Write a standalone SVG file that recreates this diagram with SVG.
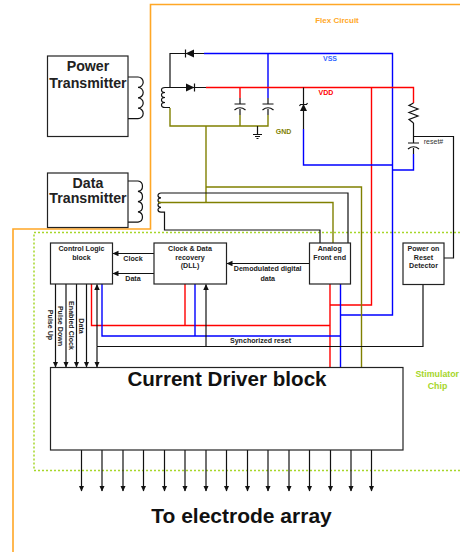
<svg xmlns="http://www.w3.org/2000/svg" width="460" height="552" viewBox="0 0 460 552">
<style>
text{font-family:"Liberation Sans",Arial,sans-serif;font-weight:bold;text-anchor:middle;fill:#222}
.box{fill:#fff;stroke:#222;stroke-width:1.2}
.k{fill:none;stroke:#111;stroke-width:1.2}
.r{fill:none;stroke:#f00;stroke-width:1.4}
.b{fill:none;stroke:#00f;stroke-width:1.4}
.o{fill:none;stroke:#808000;stroke-width:1.4}
.s{font-size:7.1px}
.big{font-size:20.6px;fill:#111}
.tx{font-size:14.2px}
.f{fill:#111;stroke:none}
</style>
<defs>
<marker id="ah" markerUnits="userSpaceOnUse" markerWidth="6" markerHeight="7" refX="5.5" refY="2.75" orient="auto"><path d="M0,0L6,2.75L0,5.5Z" fill="#111"/></marker>
</defs>
<g id="flex-boundary"><path d="M460,4.500H150.500V229H13V552" fill="none" stroke="#ffa726" stroke-width="1.6"/><text x="337" y="23" font-size="8" style="fill:#ffa726">Flex Circuit</text></g>
<g id="chip-boundary"><path d="M460,232.500H34V470.500H460" fill="none" stroke="#a6d62a" stroke-width="1.500" stroke-dasharray="2 2"/><text x="415.500" y="377" font-size="8.800" style="fill:#a6d62a;text-anchor:start">Stimulator</text><text x="437.500" y="388.500" font-size="8.800" style="fill:#a6d62a">Chip</text></g>
<g id="connectors">
<path class="k" d="M128,77H138a5.200,5.200 0 0 1 0,10.400a5.200,5.200 0 0 1 0,10.400a5.200,5.200 0 0 1 0,10.400a5.200,5.200 0 0 1 0,10.400H128"/>
<path class="k" d="M128,181H138a5.200,5.200 0 0 1 0,10.300a5.200,5.200 0 0 1 0,10.300a5.200,5.200 0 0 1 0,10.300a5.200,5.200 0 0 1 0,10.300H128"/>
<path class="k" d="M170,87.500H165a3.500,2.500 0 0 0 0,5a3.500,2.500 0 0 0 0,5a3.500,2.500 0 0 0 0,5a3.500,2.500 0 0 0 0,5H170"/>
<path class="k" d="M204,53.500H170V87.500M170,87.500H206"/>
<path class="b" d="M204,53.500H392.500V315H340.500M268,53.500V98"/>
<path class="r" d="M206,87.500H413.500V103M240,87.500V98M371.500,87.500V305H330"/>
<path class="k" d="M240,98V104M240,109V115M268,98V104M268,109V115"/>
<path class="o" d="M170,108V126H268V115M240,126V115M206,126V202.500"/>
<path class="k" d="M257.500,126V134.500"/>
<path class="k" d="M303.500,87.500V129"/>
<path class="b" d="M303.500,129V165H392.500M413.500,154V170H392.500"/>
<path class="k" d="M413.500,123V143M413.500,148V154M413.500,136.500H453.500V258H444"/>
<path class="k" d="M413.500,103L409,105.500L418,109L409,112.500L418,116L409,119.500L413.500,123"/>
<path class="k" d="M172,193H161a3,2.400 0 0 0 0,4.800a3,2.400 0 0 0 0,4.800a3,2.400 0 0 0 0,4.800a3,2.400 0 0 0 0,4.800H164.500V230H320V243"/>
<path class="k" d="M172,193H348V243"/>
<path class="o" d="M158,202.500H333V243M206,187H361.500V367"/>
<path class="r" d="M330,284V367M91.500,284V325.500H330M185,284V325.500"/>
<path class="b" d="M340.500,284V367M102,284V336H340.500M195,284V336"/>
<path class="k" d="M97,346.500H423V284"/>
<path class="k" d="M154,253.500H113" marker-end="url(#ah)"/>
<path class="k" d="M154,273.500H113" marker-end="url(#ah)"/>
<path class="k" d="M309,263.500H227" marker-end="url(#ah)"/>
<path class="k" d="M206,346.500V284.500" marker-end="url(#ah)"/>
<path class="k" d="M97,346.500V284.500" marker-end="url(#ah)"/>
<path class="k" d="M97,346.500V367" marker-end="url(#ah)"/>
<path class="k" d="M55.500,284V367" marker-end="url(#ah)"/>
<path class="k" d="M66,284V367" marker-end="url(#ah)"/>
<path class="k" d="M76.500,284V367" marker-end="url(#ah)"/>
<path class="k" d="M86.500,284V367" marker-end="url(#ah)"/>
<path class="k" d="M81.500,450V491" marker-end="url(#ah)"/>
<path class="k" d="M102,450V491" marker-end="url(#ah)"/>
<path class="k" d="M123,450V491" marker-end="url(#ah)"/>
<path class="k" d="M143.500,450V491" marker-end="url(#ah)"/>
<path class="k" d="M164.500,450V491" marker-end="url(#ah)"/>
<path class="k" d="M185,450V491" marker-end="url(#ah)"/>
<path class="k" d="M206,450V491" marker-end="url(#ah)"/>
<path class="k" d="M226.500,450V491" marker-end="url(#ah)"/>
<path class="k" d="M247.500,450V491" marker-end="url(#ah)"/>
<path class="k" d="M268,450V491" marker-end="url(#ah)"/>
<path class="k" d="M289,450V491" marker-end="url(#ah)"/>
<path class="k" d="M309.500,450V491" marker-end="url(#ah)"/>
<path class="k" d="M330.500,450V491" marker-end="url(#ah)"/>
<path class="k" d="M351,450V491" marker-end="url(#ah)"/>
<path class="k" d="M371.500,450V491" marker-end="url(#ah)"/>
</g>
<g id="power-transmitter"><rect class="box" x="47.500" y="56" width="80.500" height="80.500"/><text class="tx" x="88" y="70.500">Power</text><text class="tx" x="88" y="87.500">Transmitter</text></g>
<g id="data-transmitter"><rect class="box" x="47.500" y="173" width="80.500" height="54.500"/><text class="tx" x="88" y="187.500">Data</text><text class="tx" x="88" y="203">Transmitter</text></g>
<g id="diode-vss"><path class="f" d="M185.500,53.500L194,49.500V57.500Z"/><path class="k" d="M185.500,49.500V57.500"/></g>
<g id="diode-vdd"><path class="f" d="M194.500,87.500L186,83.500V91.500Z"/><path class="k" d="M194.500,83.500V91.500"/></g>
<g id="cap-1"><path class="k" d="M234.500,104H245.500M234.500,110Q240,105.500 245.500,110"/></g>
<g id="cap-2"><path class="k" d="M262.500,104H273.500M262.500,110Q268,105.500 273.500,110"/></g>
<g id="ground"><path class="k" d="M253,134.500H262M255,136.500H260M256.500,138.500H258.500"/></g>
<g id="zener"><path class="f" d="M303.500,104L307,111H300Z"/><path class="k" d="M299.500,106L300.500,104.500H306.500L307.500,103"/></g>
<g id="cap-reset"><path class="k" d="M408,143H419M408,149Q413.500,144.500 419,149"/></g>
<g id="control-logic"><rect class="box" x="50.500" y="243" width="62" height="41"/><text class="s" x="81.500" y="250.500">Control Logic</text><text class="s" x="81.500" y="259.500">block</text></g>
<g id="clock-data"><rect class="box" x="154" y="243" width="72.500" height="41"/><text class="s" x="190" y="250.500">Clock &amp; Data</text><text class="s" x="190" y="259.500">recovery</text><text class="s" x="190" y="267.500">(DLL)</text></g>
<g id="analog-front-end"><rect class="box" x="309.500" y="243" width="41" height="41"/><text class="s" x="329.700" y="250.500">Analog</text><text class="s" x="329.700" y="259.500">Front end</text></g>
<g id="power-on-reset"><rect class="box" x="403" y="243" width="41" height="41.500"/><text class="s" x="423.500" y="250.500">Power on</text><text class="s" x="423.500" y="259.500">Reset</text><text class="s" x="423.500" y="267.500">Detector</text></g>
<g id="current-driver"><rect class="box" x="50.500" y="367.500" width="352.500" height="82.500"/><text class="big" x="227" y="386">Current Driver block</text></g>
<g id="labels">
<text x="330" y="61" font-size="7" style="fill:#3366ff">VSS</text>
<text x="326" y="95" font-size="7" style="fill:#f00">VDD</text>
<text x="283.500" y="134" font-size="7" style="fill:#808000">GND</text>
<text x="433.500" y="144" font-size="7" style="font-weight:normal;fill:#333">reset#</text>
<text class="s" x="133" y="260.700">Clock</text>
<text class="s" x="133" y="280.700">Data</text>
<text class="s" x="267.700" y="270.700">Demodulated digital</text>
<text class="s" x="267.700" y="280.500">data</text>
<text class="s" x="260.500" y="342.700">Synchorized reset</text>
<text class="s" transform="translate(47.500,325) rotate(90)">Pulse Up</text>
<text class="s" transform="translate(58,326) rotate(90)">Pulse Down</text>
<text class="s" transform="translate(68.500,325.500) rotate(90)">Enabled Clock</text>
<text class="s" transform="translate(79,326) rotate(90)">Data</text>
<text class="big" x="241.500" y="522.700" style="font-size:21px">To electrode array</text>
</g>
</svg>
